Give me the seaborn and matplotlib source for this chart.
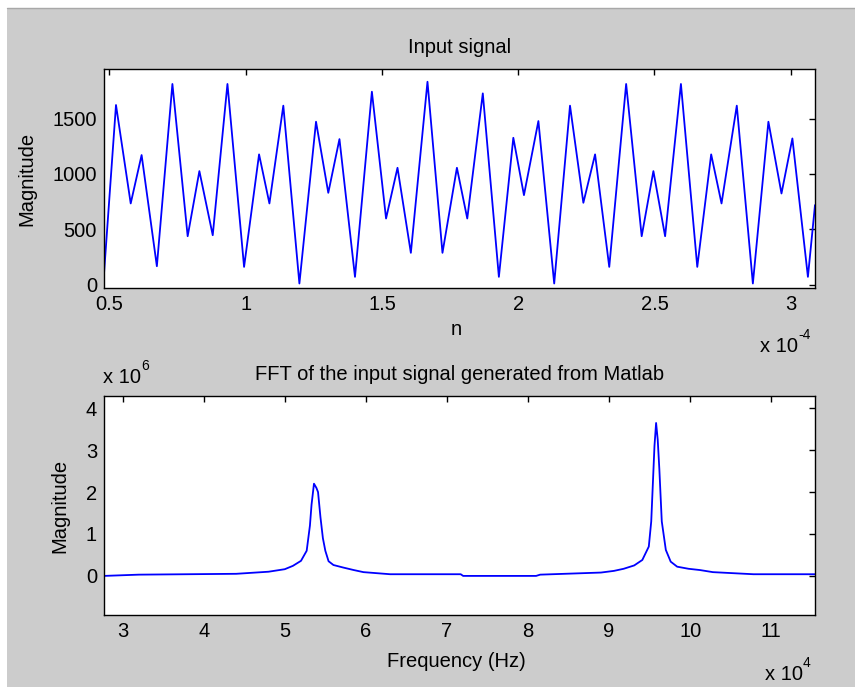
import matplotlib
matplotlib.use("Agg")
import matplotlib.pyplot as plt
from matplotlib.patches import Rectangle
from matplotlib.lines import Line2D
import seaborn as sns
import pandas as pd

# ---- data ----
# Input signal: time in units of 1e-4 s, magnitude
time_x1e4 = [0.480, 0.524, 0.578, 0.618, 0.674, 0.731, 0.787, 0.830, 0.879, 0.933,
             0.994, 1.049, 1.087, 1.138, 1.197, 1.258, 1.303, 1.344, 1.401, 1.463,
             1.515, 1.557, 1.606, 1.667, 1.722, 1.775, 1.813, 1.870, 1.929, 1.982,
             2.021, 2.074, 2.132, 2.190, 2.239, 2.282, 2.334, 2.396, 2.453, 2.496,
             2.539, 2.597, 2.657, 2.708, 2.746, 2.802, 2.861, 2.918, 2.966, 3.006,
             3.063, 3.089]
signal_mag = [100, 1623, 734, 1171, 167, 1813, 438, 1026, 447, 1813,
              161, 1177, 734, 1617, 11, 1472, 830, 1315, 71, 1743,
              598, 1056, 288, 1833, 288, 1056, 598, 1728, 71, 1327,
              809, 1478, 11, 1617, 740, 1177, 161, 1813, 438, 1026,
              438, 1813, 161, 1177, 734, 1617, 11, 1472, 824, 1321,
              71, 719]

# FFT: frequency in units of 1e4 Hz, magnitude in units of 1e6
freq_x1e4 = [2.77, 3.20, 4.40, 4.80, 5.00, 5.10, 5.20, 5.27, 5.31, 5.33, 5.36,
             5.39, 5.41, 5.44, 5.47, 5.50, 5.54, 5.60, 5.72, 5.85, 5.97, 6.30,
             7.17, 7.20, 8.10, 8.15, 8.90, 9.06, 9.18, 9.31, 9.41, 9.49, 9.52,
             9.54, 9.56, 9.58, 9.60, 9.62, 9.65, 9.70, 9.76, 9.84, 9.98, 10.12,
             10.28, 10.78, 11.54]
fft_mag_x1e6 = [0.00, 0.03, 0.05, 0.10, 0.16, 0.24, 0.36, 0.60, 1.20, 1.70, 2.20,
                2.10, 2.00, 1.40, 0.90, 0.60, 0.35, 0.26, 0.20, 0.14, 0.09, 0.04,
                0.04, 0.00, 0.00, 0.03, 0.08, 0.12, 0.17, 0.25, 0.38, 0.70, 1.30,
                2.20, 3.10, 3.65, 3.25, 2.55, 1.30, 0.62, 0.34, 0.22, 0.17, 0.14,
                0.09, 0.04, 0.04]

top_xticks = [0.5, 1, 1.5, 2, 2.5, 3]
top_xticklabels = ["0.5", "1", "1.5", "2", "2.5", "3"]
top_yticks = [0, 500, 1000, 1500]
bot_xticks = [3, 4, 5, 6, 7, 8, 9, 10, 11]
bot_yticks = [0, 1, 2, 3, 4]

# ---- style ----
sns.set_style("white")
plt.rcParams["font.family"] = ["Liberation Sans", "DejaVu Sans"]
plt.rcParams["text.color"] = "black"
plt.rcParams["axes.labelcolor"] = "black"
plt.rcParams["xtick.color"] = "black"
plt.rcParams["ytick.color"] = "black"

FS = 14.5
FS_EXP = 10
W, H = 855, 689
fig = plt.figure(figsize=(W / 100, H / 100), dpi=100, facecolor="white")

# gray window panel
fig.patches.append(Rectangle((7 / W, 2 / H), (W - 7) / W, (H - 10) / H,
                             transform=fig.transFigure, facecolor="#CCCCCC",
                             edgecolor="none", zorder=-10))
fig.lines.append(Line2D([7 / W, 1], [(H - 7.5) / H, (H - 7.5) / H],
                        transform=fig.transFigure, color="#A8A8A8", lw=1.0))

ax1 = fig.add_axes([104 / W, 1 - 288.5 / H, 711 / W, 219.5 / H])
ax2 = fig.add_axes([104 / W, 1 - 615.3 / H, 711 / W, 219.6 / H])

df_sig = pd.DataFrame({"t": time_x1e4, "mag": signal_mag})
df_fft = pd.DataFrame({"f": freq_x1e4, "mag": fft_mag_x1e6})

sns.lineplot(data=df_sig, x="t", y="mag", ax=ax1, color="#0000FF",
             linewidth=1.3, estimator=None, sort=False)
sns.lineplot(data=df_fft, x="f", y="mag", ax=ax2, color="#0000FF",
             linewidth=1.3, estimator=None, sort=False)

for ax in (ax1, ax2):
    ax.set_facecolor("white")
    for s in ax.spines.values():
        s.set_color("black")
        s.set_linewidth(1.0)
        s.set_visible(True)
    ax.tick_params(direction="in", length=4.5, width=1.0, top=True, right=True,
                   labelsize=FS, pad=5, colors="black")

# top axes
ax1.set_xlim(0.480, 3.089)
ax1.set_ylim(-34, 1948)
ax1.set_xticks(top_xticks)
ax1.set_xticklabels(top_xticklabels)
ax1.set_yticks(top_yticks)
ax1.set_yticklabels([str(v) for v in top_yticks])
ax1.set_title("Input signal", fontsize=FS, pad=11.5, color="black")
ax1.set_xlabel("n", fontsize=FS, va="center")
ax1.xaxis.set_label_coords(0.495, -0.185)
ax1.set_ylabel("Magnitude", fontsize=FS, va="center")
ax1.yaxis.set_label_coords(-0.108, 0.5)

# bottom axes
ax2.set_xlim(2.77, 11.54)
ax2.set_ylim(-0.94, 4.30)
ax2.set_xticks(bot_xticks)
ax2.set_xticklabels([str(v) for v in bot_xticks])
ax2.set_yticks(bot_yticks)
ax2.set_yticklabels([str(v) for v in bot_yticks])
ax2.set_title("FFT of the input signal generated from Matlab", fontsize=FS,
              pad=11.3, color="black")
ax2.set_xlabel("Frequency (Hz)", fontsize=FS, va="center")
ax2.xaxis.set_label_coords(0.496, -0.211)
ax2.set_ylabel("Magnitude", fontsize=FS, va="center")
ax2.yaxis.set_label_coords(-0.062, 0.5)


def px_text(x, y, s, size):
    fig.text(x / W, 1 - y / H, s, fontsize=size, ha="left", va="baseline",
             color="black")


# exponent labels (MATLAB style): base text + small superscript
px_text(760, 352, "x 10", FS)
px_text(798, 339, "-4", FS_EXP)
px_text(103, 383, "x 10", FS)
px_text(141, 370, "6", FS_EXP)
px_text(765, 680, "x 10", FS)
px_text(803, 667, "4", FS_EXP)

fig.savefig("out.png", dpi=100, facecolor=fig.get_facecolor())
